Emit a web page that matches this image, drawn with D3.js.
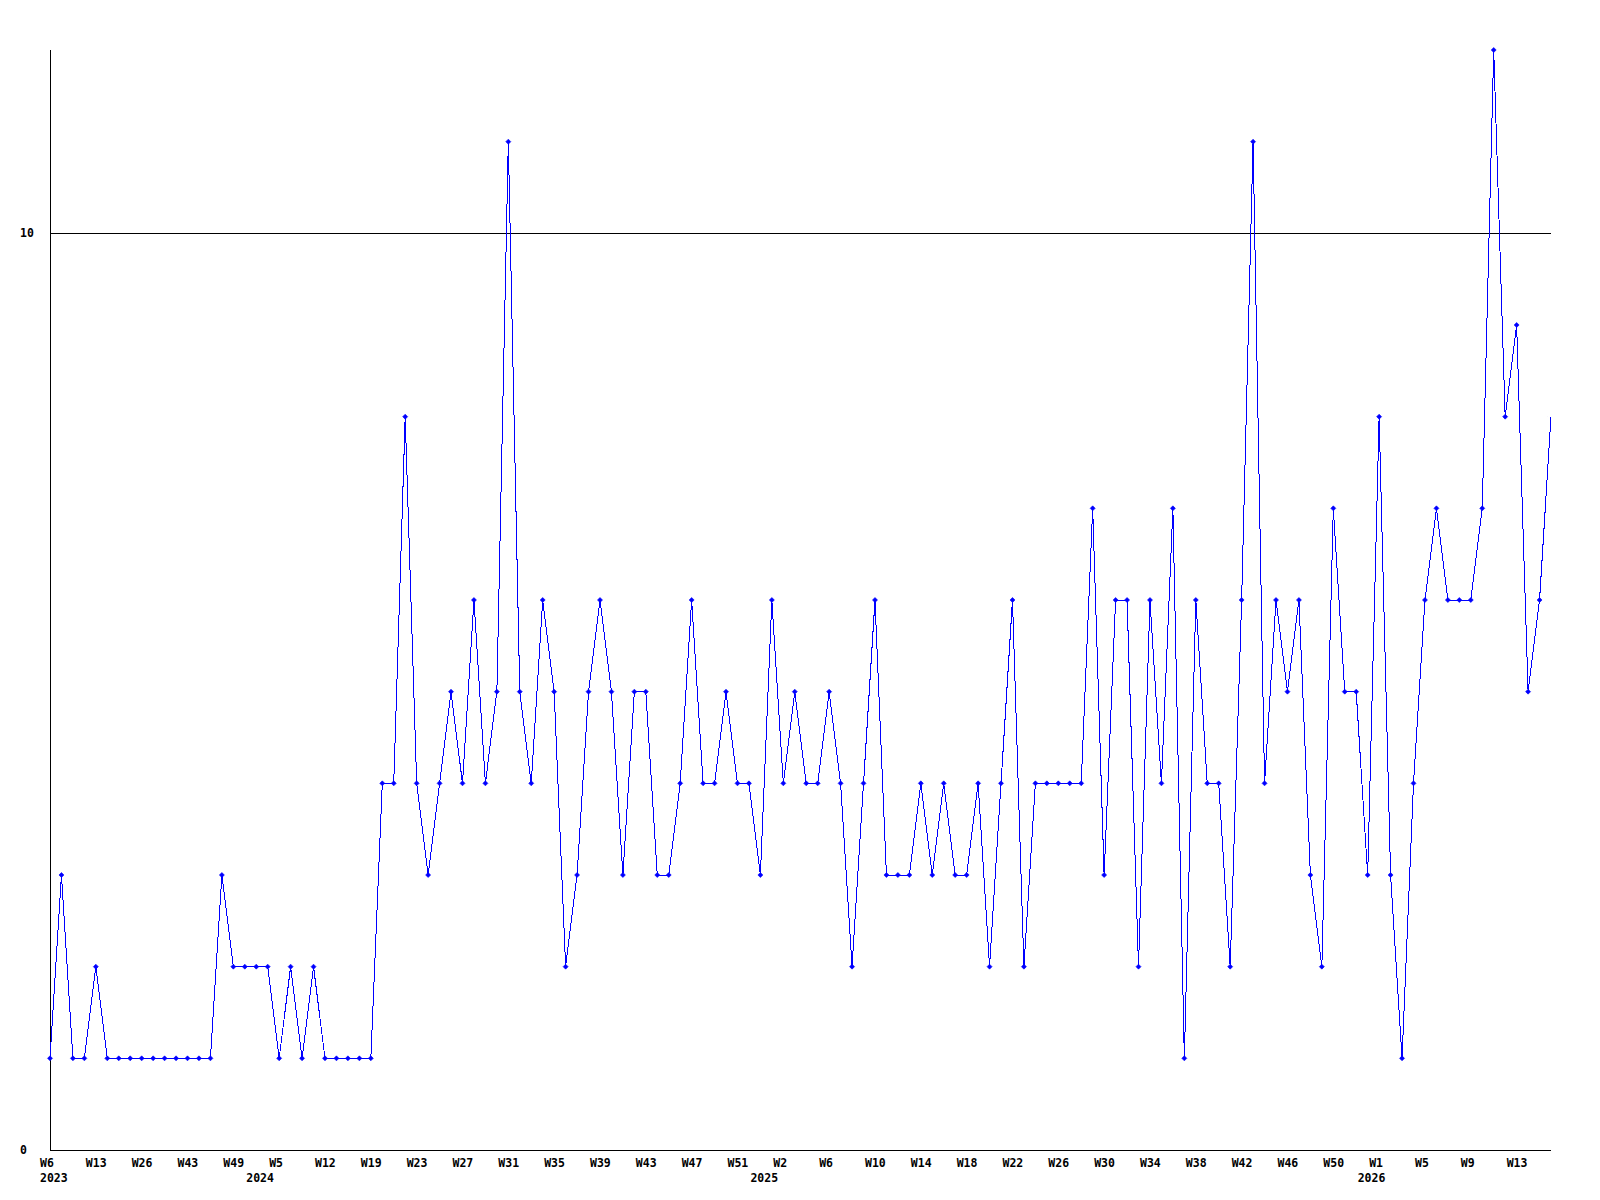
<!DOCTYPE html>
<html>
<head>
<meta charset="utf-8">
<script src="https://cdn.jsdelivr.net/npm/d3@7"></script>
<style>
  html, body { margin: 0; padding: 0; background: #ffffff; }
  svg { display: block; }
  text { font-family: "DejaVu Sans Mono", "Liberation Mono", monospace; font-weight: bold; font-size: 11.5px; fill: #000; }
</style>
</head>
<body>
<svg id="chart" width="1600" height="1200"></svg>
<script>
// ---- data ----
const values = [
  1,3,1,1,2,1,1,1,1,1,1,1,1,1,1,3,2,2,2,2,
  1,2,1,2,1,1,1,1,1,4,4,8,4,3,4,5,4,6,4,5,
  11,5,4,6,5,2,3,5,6,5,3,5,5,3,3,4,6,4,4,5,
  4,4,3,6,4,5,4,4,5,4,2,4,6,3,3,3,4,3,4,3,
  3,4,2,4,6,2,4,4,4,4,4,7,3,6,6,2,6,4,7,1,
  6,4,4,2,6,11,4,6,5,6,3,2,7,5,5,3,8,3,1,4,
  6,7,6,6,6,7,12,8,9,5,6,8
];
const weekLabels = ["W6","W13","W26","W43","W49","W5","W12","W19","W23","W27","W31",
  "W35","W39","W43","W47","W51","W2","W6","W10","W14","W18","W22","W26","W30","W34",
  "W38","W42","W46","W50","W1","W5","W9","W13"];
const weekLabelEvery = 4;
const yearLabels = ["2023","2024","2025","2026"];
const yearStartIndex = [0,18,62,115];
const yTickValues = [0,10];
const yMax = 12;

// ---- layout ----
const plotLeft = 50, plotRight = 1551, plotTop = 50, plotBottom = 1150;
const svg = d3.select("#chart");

const x = d3.scaleLinear().domain([0, values.length - 1]).range([plotLeft, plotRight]);
const y = d3.scaleLinear().domain([0, yMax]).range([plotBottom, plotTop]);

// clip for markers (plot area, right edge excluded)
svg.append("defs").append("clipPath").attr("id", "plotClip")
  .append("rect")
  .attr("x", 0).attr("y", 0)
  .attr("width", plotRight - 3).attr("height", 1200);

// gridline at 10 and axes
svg.append("g").selectAll("line")
  .data(yTickValues.filter(v => v > 0))
  .join("line")
  .attr("x1", plotLeft).attr("x2", plotRight)
  .attr("y1", d => Math.round(y(d)) + 0.5).attr("y2", d => Math.round(y(d)) + 0.5)
  .attr("stroke", "#000").attr("stroke-width", 1).attr("shape-rendering", "crispEdges");

svg.append("line")
  .attr("x1", plotLeft + 0.5).attr("x2", plotLeft + 0.5)
  .attr("y1", plotTop).attr("y2", plotBottom + 0.5)
  .attr("stroke", "#000").attr("shape-rendering", "crispEdges");
svg.append("line")
  .attr("x1", plotLeft).attr("x2", plotRight)
  .attr("y1", plotBottom + 0.5).attr("y2", plotBottom + 0.5)
  .attr("stroke", "#000").attr("shape-rendering", "crispEdges");

// y labels
svg.append("g").selectAll("text")
  .data(yTickValues)
  .join("text")
  .attr("x", 20)
  .attr("y", d => y(d) + 4)
  .text(d => d);

// x week labels
svg.append("g").selectAll("text")
  .data(weekLabels)
  .join("text")
  .attr("x", (d, i) => x(i * weekLabelEvery) - 10)
  .attr("y", 1167)
  .text(d => d);

// year labels
svg.append("g").selectAll("text")
  .data(yearLabels)
  .join("text")
  .attr("x", (d, i) => x(yearStartIndex[i]) - 10)
  .attr("y", 1182)
  .text(d => d);

// line
const line = d3.line().x((d, i) => x(i)).y(d => y(d));
svg.append("path")
  .datum(values)
  .attr("d", line)
  .attr("fill", "none")
  .attr("stroke", "#0000ff")
  .attr("stroke-width", 1)
  .attr("shape-rendering", "crispEdges");

// markers
svg.append("g").attr("clip-path", "url(#plotClip)")
  .selectAll("path")
  .data(values)
  .join("path")
  .attr("d", (d, i) => {
    const cx = x(i), cy = y(d), r = 2.5;
    return `M${cx - r},${cy}L${cx},${cy - r}L${cx + r},${cy}L${cx},${cy + r}Z`;
  })
  .attr("fill", "#0000ff")
  .attr("stroke", "#0000ff")
  .attr("stroke-width", 0.6);
</script>
</body>
</html>
